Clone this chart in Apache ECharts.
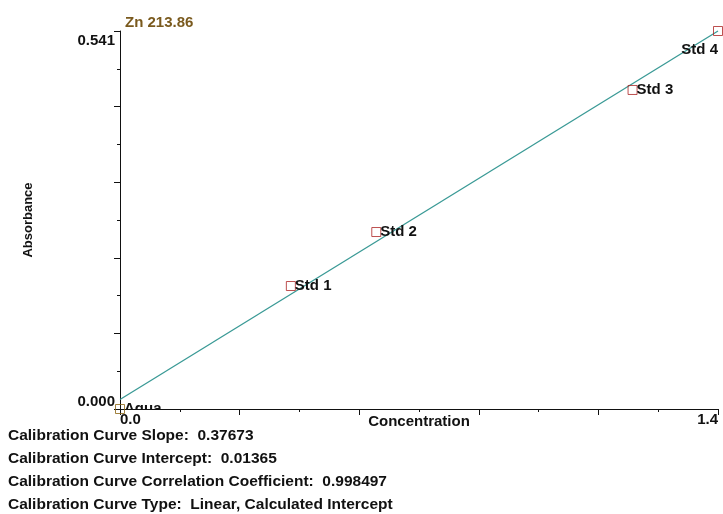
<!DOCTYPE html>
<html>
<head>
<meta charset="utf-8">
<script src="https://cdn.jsdelivr.net/npm/echarts@6/dist/echarts.min.js"></script>
<style>
  html, body { margin: 0; padding: 0; background: #fff; }
  #chart { width: 723px; height: 514px; }
</style>
</head>
<body>
<div id="chart"></div>
<script>
// Zn 213.86 calibration standards
const sampleNames = ['Aqua', 'Std 1', 'Std 2', 'Std 3', 'Std 4'];
const concentrations = [0.0, 0.4, 0.6, 1.2, 1.4];
const absorbances = [0.0, 0.176, 0.2533, 0.4566, 0.541];

// Fit parameters of the calibration curve
const curveSlope = 0.37673;
const curveIntercept = 0.01365;
const correlationCoefficient = 0.998497;
const curveType = 'Linear, Calculated Intercept';

// Axis ranges and the labelled tick values
const xTickLabels = ['0.0', '1.4'];
const yTickLabels = ['0.000', '0.541'];
const xMax = 1.4;
const yMax = 0.541;

const FONT = '"Liberation Sans", Arial, Helvetica, sans-serif';

// Two ends of the fitted straight line across the concentration range
const fitLine = [0, xMax].map(function (c) {
  return [c, curveSlope * c + curveIntercept];
});

const points = concentrations.map(function (c, i) {
  return {
    name: sampleNames[i],
    value: [c, absorbances[i]],
    itemStyle: { borderColor: sampleNames[i] === 'Aqua' ? '#8b6410' : '#ad2424' }
  };
});

function labelPlacement(name) {
  if (name === 'Std 4') return { dx: 0, dy: 19, align: 'right' };
  return { dx: 4, dy: 0, align: 'left' };
}

const chart = echarts.init(document.getElementById('chart'), null, { renderer: 'canvas' });

const footLines = [
  'Calibration Curve Slope:  ' + curveSlope.toFixed(5),
  'Calibration Curve Intercept:  ' + curveIntercept.toFixed(5),
  'Calibration Curve Correlation Coefficient:  ' + correlationCoefficient.toFixed(6),
  'Calibration Curve Type:  ' + curveType
];

chart.setOption({
  animation: false,
  backgroundColor: '#ffffff',
  title: {
    text: 'Zn 213.86',
    left: 120,
    top: 10,
    textStyle: { fontFamily: FONT, fontSize: 15, fontWeight: 'bold', color: '#7a5a1e' }
  },
  grid: { left: 120, top: 31, width: 598, height: 378, containLabel: false },
  xAxis: {
    type: 'value',
    min: 0,
    max: xMax,
    interval: 0.28,
    name: 'Concentration',
    nameLocation: 'middle',
    nameGap: 5,
    nameMoveOverlap: false,
    nameTextStyle: { fontFamily: FONT, fontSize: 15, fontWeight: 'bold', color: '#111', verticalAlign: 'top' },
    axisLine: { show: true, onZero: false, lineStyle: { color: '#111', width: 1 } },
    axisTick: { show: true, inside: false, length: 6, lineStyle: { color: '#111' } },
    minorTick: { show: true, splitNumber: 2, length: 3, lineStyle: { color: '#111' } },
    splitLine: { show: false },
    axisLabel: {
      margin: 3,
      fontFamily: FONT, fontSize: 15, fontWeight: 'bold', color: '#111',
      alignMinLabel: 'left',
      alignMaxLabel: 'right',
      formatter: function (v) {
        if (Math.abs(v) < 1e-9) return xTickLabels[0];
        if (Math.abs(v - xMax) < 1e-9) return xTickLabels[1];
        return '';
      }
    }
  },
  yAxis: {
    type: 'value',
    min: 0,
    max: yMax,
    interval: yMax / 5,
    name: 'Absorbance',
    nameLocation: 'middle',
    nameRotate: 90,
    nameGap: 85,
    nameMoveOverlap: false,
    nameTextStyle: { fontFamily: FONT, fontSize: 13, fontWeight: 'bold', color: '#111' },
    axisLine: { show: true, onZero: false, lineStyle: { color: '#111', width: 1 } },
    axisTick: { show: true, inside: false, length: 6, lineStyle: { color: '#111' } },
    minorTick: { show: true, splitNumber: 2, length: 3, lineStyle: { color: '#111' } },
    splitLine: { show: false },
    axisLabel: {
      margin: 5,
      fontFamily: FONT, fontSize: 15, fontWeight: 'bold', color: '#111',
      verticalAlignMinLabel: 'bottom',
      verticalAlignMaxLabel: 'top',
      formatter: function (v) {
        if (Math.abs(v) < 1e-9) return yTickLabels[0];
        if (Math.abs(v - yMax) < 1e-9) return '{top|' + yTickLabels[1] + '}';
        return '';
      },
      rich: {
        top: { fontFamily: FONT, fontSize: 15, fontWeight: 'bold', color: '#111', padding: [2, 0, 0, 0] }
      }
    }
  },
  series: [
    {
      name: 'fit',
      type: 'line',
      data: fitLine,
      symbol: 'none',
      clip: false,
      lineStyle: { color: '#3a9a96', width: 1.3 },
      z: 2
    },
    {
      name: 'standards',
      type: 'scatter',
      data: points,
      symbol: 'rect',
      symbolSize: 9,
      clip: false,
      itemStyle: { color: 'rgba(0,0,0,0)', borderWidth: 1 },
      z: 3
    },
    {
      name: 'labels',
      type: 'custom',
      data: points,
      clip: true,
      z: 4,
      renderItem: function (params, api) {
        const name = sampleNames[params.dataIndex];
        const pt = api.coord([api.value(0), api.value(1)]);
        const pl = labelPlacement(name);
        return {
          type: 'text',
          x: pt[0] + pl.dx,
          y: pt[1] + pl.dy,
          style: {
            text: name,
            fontFamily: FONT,
            fontSize: 15,
            fontWeight: 'bold',
            fill: '#111',
            align: pl.align,
            verticalAlign: 'middle'
          }
        };
      }
    }
  ],
  graphic: footLines.map(function (t, i) {
    return {
      type: 'text',
      left: 8,
      top: 428 + i * 22.8,
      style: { text: t, fontFamily: FONT, fontSize: 15.5, fontWeight: 'bold', fill: '#111' }
    };
  })
});
</script>
</body>
</html>
